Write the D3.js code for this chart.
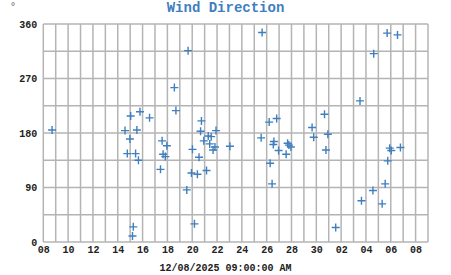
<!DOCTYPE html>
<html>
<head>
<meta charset="utf-8">
<script src="https://cdn.jsdelivr.net/npm/d3@7"></script>
<style>
	body { margin: 0; background: #fff; }
	svg { display: block; }
	.tick-lbl { font-family: "Liberation Mono", "DejaVu Sans Mono", monospace; font-weight: bold; font-size: 10px; fill: #222; }
</style>
</head>
<body>
<div id="chart"></div>
<script>
	// observation times (local) and wind direction in degrees
	var obsTimes = [
		"2025-11-08 17:00", "2025-11-14 14:00", "2025-11-15 01:00", "2025-11-15 19:00", "2025-11-15 13:00",
		"2025-11-14 23:30", "2025-11-14 18:30", "2025-11-15 10:30", "2025-11-15 16:00", "2025-11-15 06:00",
		"2025-11-15 04:30", "2025-11-16 13:30", "2025-11-17 13:45", "2025-11-17 23:00", "2025-11-17 15:40",
		"2025-11-17 20:00", "2025-11-17 10:40", "2025-11-18 13:30", "2025-11-18 16:30", "2025-11-19 16:00",
		"2025-11-19 13:30", "2025-11-20 00:30", "2025-11-19 22:30", "2025-11-20 10:00", "2025-11-20 13:10",
		"2025-11-20 04:20", "2025-11-20 22:20", "2025-11-21 03:40", "2025-11-21 07:00", "2025-11-21 12:40",
		"2025-11-21 09:50", "2025-11-21 20:00", "2025-11-21 16:20", "2025-11-20 17:50", "2025-11-20 16:10",
		"2025-11-21 22:00", "2025-11-23 01:00", "2025-11-25 15:10", "2025-11-25 13:20", "2025-11-26 04:50",
		"2025-11-26 19:20", "2025-11-26 14:00", "2025-11-26 12:50", "2025-11-26 23:00", "2025-11-27 13:40",
		"2025-11-27 16:30", "2025-11-27 19:00", "2025-11-27 22:50", "2025-11-26 06:40", "2025-11-26 10:30",
		"2025-11-29 15:50", "2025-11-29 19:00", "2025-11-30 15:50", "2025-11-30 22:20", "2025-11-30 18:40",
		"2025-12-01 13:30", "2025-12-03 12:30", "2025-12-03 15:20", "2025-12-04 15:00", "2025-12-04 13:30",
		"2025-12-05 07:20", "2025-12-05 13:10", "2025-12-05 18:10", "2025-12-05 17:00", "2025-12-06 13:00",
		"2025-12-05 22:00", "2025-12-06 01:00", "2025-12-06 18:40"
	];
	var windDir = [
		185, 184, 208, 215, 185,
		170, 146, 146, 135, 25,
		10, 205, 167, 159, 145,
		141, 120, 255, 217, 316,
		86, 153, 114, 112, 140,
		30, 167, 118, 175, 174,
		162, 157, 152, 200, 183,
		184, 158, 346, 172, 198,
		204, 166, 161, 151, 145,
		163, 160, 157, 130, 96,
		189, 173, 211, 178, 152,
		24, 233, 68, 311, 85,
		63, 96, 134, 345, 342,
		155, 151, 156
	];
	var yTicks = [0, 90, 180, 270, 360];
	var chartTitle = "Wind Direction";
	var axisTitle = "12/08/2025 09:00:00 AM";

	var width = 451,
		height = 275;
	var margin = { top: 24, right: 23, bottom: 33, left: 43.3 };

	var parseTime = d3.timeParse("%Y-%m-%d %H:%M");
	var datapoints = obsTimes.map(function(t, i) {
		return { time: parseTime(t), dir: windDir[i] };
	});

	var svg = d3.select("#chart")
		.append("svg")
		.attr("width", width)
		.attr("height", height);

	var startDay = new Date(2025, 10, 8),
		endDay = new Date(2025, 11, 9);

	var x = d3.scaleTime()
		.domain([startDay, endDay])
		.range([margin.left, width - margin.right]);

	var y = d3.scaleLinear()
		.domain([0, 360])
		.range([height - margin.bottom, margin.top]);

	var gridColor = "#b4b4b4";

	// vertical grid, one line per day
	svg.append("g")
		.selectAll("line")
		.data(d3.timeDay.range(startDay, d3.timeDay.offset(endDay, 1)))
		.enter().append("line")
		.attr("x1", function(d) { return x(d); })
		.attr("x2", function(d) { return x(d); })
		.attr("y1", y(0))
		.attr("y2", y(360))
		.attr("stroke", gridColor)
		.attr("stroke-width", 1.5);

	// horizontal grid every 45 degrees
	svg.append("g")
		.selectAll("line")
		.data(d3.range(0, 361, 45))
		.enter().append("line")
		.attr("x1", x.range()[0])
		.attr("x2", x.range()[1])
		.attr("y1", function(d) { return y(d); })
		.attr("y2", function(d) { return y(d); })
		.attr("stroke", gridColor)
		.attr("stroke-width", 1.5);

	// y axis labels
	var yAxis = d3.axisLeft(y).tickValues(yTicks).tickSize(0).tickPadding(6);
	var gy = svg.append("g")
		.attr("transform", "translate(" + margin.left + ",0)")
		.call(yAxis);
	gy.select(".domain").remove();
	gy.selectAll("text").attr("class", "tick-lbl").attr("font-family", null).attr("font-size", null);

	// x axis labels, every second day from the 8th
	var xAxis = d3.axisBottom(x)
		.tickValues(d3.timeDay.range(startDay, endDay, 2))
		.tickFormat(d3.timeFormat("%d"))
		.tickSize(0)
		.tickPadding(4);
	var gx = svg.append("g")
		.attr("transform", "translate(0," + y(0) + ")")
		.call(xAxis);
	gx.select(".domain").remove();
	gx.selectAll("text").attr("class", "tick-lbl").attr("font-family", null).attr("font-size", null);

	// the markers
	var s = 4;
	var marks = svg.append("g")
		.selectAll(".mark")
		.data(datapoints)
		.enter().append("path")
		.attr("class", "mark")
		.attr("d", function(d) {
			var cx = x(d.time), cy = y(d.dir);
			return "M" + (cx - s) + "," + cy + "H" + (cx + s) + "M" + cx + "," + (cy - s) + "V" + (cy + s);
		})
		.attr("stroke", "#3f7fbf")
		.attr("stroke-width", 1.4)
		.attr("fill", "none");

	svg.append("text")
		.attr("x", width / 2)
		.attr("y", 12)
		.attr("text-anchor", "middle")
		.attr("font-family", "Liberation Mono, monospace")
		.attr("font-weight", "bold")
		.attr("font-size", 14)
		.attr("fill", "#3f7fbf")
		.text(chartTitle);

	svg.append("text")
		.attr("x", 13)
		.attr("y", 10)
		.attr("text-anchor", "middle")
		.attr("font-family", "DejaVu Sans, sans-serif")
		.attr("font-size", 10)
		.attr("fill", "#666")
		.text("°");

	svg.append("text")
		.attr("x", width / 2)
		.attr("y", 271)
		.attr("text-anchor", "middle")
		.attr("class", "tick-lbl")
		.text(axisTitle);
</script>
</body>
</html>
